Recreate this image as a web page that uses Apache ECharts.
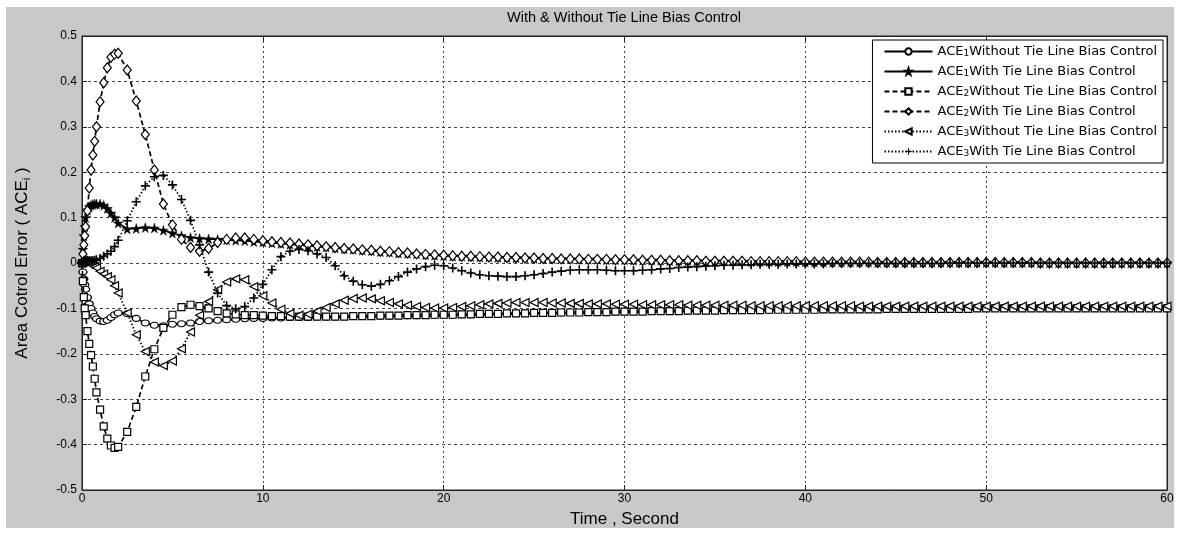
<!DOCTYPE html>
<html>
<head>
<meta charset="utf-8">
<script src="https://cdn.jsdelivr.net/npm/echarts@6/dist/echarts.min.js"></script>
<style>
html,body{margin:0;padding:0;background:#fff;}
#chart{width:1179px;height:533px;}
</style>
</head>
<body>
<div id="chart"></div>
<script>
const time = [0,0.05,0.1,0.15,0.2,0.3,0.4,0.5,0.6,0.7,0.8,1,1.2,1.4,1.6,1.8,2,
2.5,3,3.5,4,4.5,5,5.5,6,6.5,7,7.5,8,8.5,9,9.5,10,10.5,11,11.5,12,12.5,13,13.5,14,14.5,15,15.5,16,16.5,17,17.5,18,18.5,19,19.5,20,
20.5,21,21.5,22,22.5,23,23.5,24,24.5,25,
25.5,26,26.5,27,27.5,28,28.5,29,29.5,30,
30.5,31,31.5,32,32.5,33,33.5,34,34.5,35,
35.5,36,36.5,37,37.5,38,38.5,39,39.5,40,
40.5,41,41.5,42,42.5,43,43.5,44,44.5,45,
45.5,46,46.5,47,47.5,48,48.5,49,49.5,50,
50.5,51,51.5,52,52.5,53,53.5,54,54.5,55,
55.5,56,56.5,57,57.5,58,58.5,59,59.5,60];

const ace1Without = [0,-0.02,-0.035,-0.048,-0.058,-0.076,-0.09,-0.1,-0.11,-0.118,-0.123,-0.128,-0.129,-0.126,-0.12,-0.114,-0.11,
-0.112,-0.122,-0.132,-0.137,-0.138,-0.135,-0.134,-0.132,-0.129,-0.127,-0.126,-0.125,-0.124,-0.123,-0.122,-0.122,-0.121,-0.121,-0.12,-0.12,-0.12,-0.119,-0.119,-0.119,-0.118,-0.118,-0.118,-0.117,-0.117,-0.117,-0.116,-0.116,-0.116,-0.115,-0.115,-0.115,
-0.115,-0.114,-0.114,-0.113,-0.113,-0.112,-0.112,-0.112,-0.111,-0.111,
-0.110,-0.110,-0.110,-0.109,-0.109,-0.109,-0.108,-0.108,-0.108,-0.107,
-0.107,-0.107,-0.107,-0.106,-0.106,-0.106,-0.106,-0.105,-0.105,-0.105,
-0.105,-0.104,-0.104,-0.104,-0.104,-0.104,-0.103,-0.103,-0.103,-0.103,
-0.103,-0.103,-0.102,-0.102,-0.102,-0.102,-0.102,-0.102,-0.102,-0.101,
-0.101,-0.101,-0.101,-0.101,-0.101,-0.101,-0.101,-0.101,-0.100,-0.100,
-0.100,-0.100,-0.100,-0.100,-0.100,-0.100,-0.100,-0.100,-0.100,-0.100,
-0.100,-0.100,-0.100,-0.100,-0.100,-0.100,-0.100,-0.100,-0.100,-0.100];

const ace1With = [0,0.03,0.06,0.08,0.1,0.117,0.124,0.127,0.129,0.13,0.13,0.13,0.127,0.12,0.11,0.1,0.088,
0.075,0.076,0.078,0.077,0.072,0.066,0.06,0.056,0.054,0.053,0.052,0.051,0.05,0.049,0.047,0.046,0.044,0.043,0.041,0.04,0.038,0.036,0.035,0.033,0.031,0.03,0.028,0.027,0.025,0.024,0.022,0.021,0.02,0.018,0.017,0.016,
0.015,0.015,0.014,0.013,0.013,0.012,0.012,0.011,0.011,0.010,
0.010,0.009,0.009,0.009,0.008,0.008,0.008,0.007,0.007,0.007,
0.006,0.006,0.006,0.006,0.005,0.005,0.005,0.005,0.004,0.004,
0.004,0.004,0.004,0.003,0.003,0.003,0.003,0.003,0.003,0.002,
0.002,0.002,0.002,0.002,0.002,0.002,0.002,0.001,0.001,0.001,
0.001,0.001,0.001,0.001,0.001,0.001,0.001,0.001,0.001,0.001,
0.001,0.001,0.001,0.001,0.001,0,0,0,0,0,
0,0,0,0,0,0,0,0,0,0];

const ace2Without = [0,-0.04,-0.075,-0.1,-0.115,-0.15,-0.178,-0.203,-0.228,-0.255,-0.285,-0.323,-0.36,-0.387,-0.402,-0.407,-0.405,
-0.372,-0.317,-0.25,-0.19,-0.143,-0.114,-0.097,-0.092,-0.095,-0.1,-0.106,-0.111,-0.113,-0.115,-0.115,-0.116,-0.117,-0.117,-0.118,-0.118,-0.118,-0.118,-0.118,-0.118,-0.118,-0.117,-0.117,-0.117,-0.116,-0.116,-0.116,-0.115,-0.115,-0.115,-0.114,-0.114,
-0.114,-0.113,-0.113,-0.112,-0.112,-0.112,-0.111,-0.111,-0.111,-0.110,
-0.110,-0.110,-0.109,-0.109,-0.109,-0.108,-0.108,-0.108,-0.107,-0.107,
-0.107,-0.107,-0.106,-0.106,-0.106,-0.106,-0.105,-0.105,-0.105,-0.105,
-0.104,-0.104,-0.104,-0.104,-0.104,-0.103,-0.103,-0.103,-0.103,-0.103,
-0.103,-0.102,-0.102,-0.102,-0.102,-0.102,-0.102,-0.102,-0.101,-0.101,
-0.101,-0.101,-0.101,-0.101,-0.101,-0.101,-0.101,-0.101,-0.100,-0.100,
-0.100,-0.100,-0.100,-0.100,-0.100,-0.100,-0.100,-0.100,-0.100,-0.100,
-0.100,-0.100,-0.100,-0.100,-0.100,-0.100,-0.100,-0.100,-0.100,-0.100];

const ace2With = [0,0.02,0.04,0.06,0.08,0.115,0.165,0.205,0.238,0.268,0.3,0.355,0.397,0.43,0.453,0.46,0.462,
0.425,0.357,0.283,0.205,0.13,0.084,0.052,0.034,0.026,0.032,0.045,0.052,0.055,0.055,0.052,0.049,0.047,0.045,0.044,0.042,0.04,0.038,0.036,0.034,0.032,0.031,0.029,0.028,0.026,0.025,0.023,0.022,0.02,0.019,0.018,0.017,
0.016,0.015,0.015,0.014,0.013,0.013,0.012,0.012,0.011,0.011,
0.010,0.010,0.009,0.009,0.009,0.008,0.008,0.008,0.007,0.007,
0.007,0.006,0.006,0.006,0.005,0.005,0.005,0.005,0.004,0.004,
0.004,0.004,0.004,0.003,0.003,0.003,0.003,0.003,0.003,0.002,
0.002,0.002,0.002,0.002,0.002,0.002,0.002,0.001,0.001,0.001,
0.001,0.001,0.001,0.001,0.001,0.001,0.001,0.001,0.001,0.001,
0.001,0.001,0.001,0.001,0.001,0,0,0,0,0,
0,0,0,0,0,0,0,0,0,0];

const ace3Without = [0,0.002,0.003,0.003,0.003,0.002,0,-0.002,-0.005,-0.008,-0.011,-0.018,-0.024,-0.03,-0.037,-0.05,-0.066,
-0.11,-0.158,-0.195,-0.218,-0.226,-0.216,-0.189,-0.152,-0.115,-0.085,-0.059,-0.042,-0.035,-0.037,-0.052,-0.072,-0.088,-0.102,-0.111,-0.115,-0.113,-0.106,-0.098,-0.09,-0.082,-0.078,-0.077,-0.079,-0.083,-0.087,-0.09,-0.093,-0.096,-0.098,-0.099,-0.099,
-0.098,-0.096,-0.094,-0.092,-0.090,-0.089,-0.088,-0.087,-0.087,-0.087,
-0.087,-0.088,-0.088,-0.089,-0.089,-0.090,-0.090,-0.090,-0.091,-0.091,
-0.091,-0.092,-0.092,-0.092,-0.092,-0.092,-0.093,-0.093,-0.093,-0.093,
-0.093,-0.093,-0.093,-0.094,-0.094,-0.094,-0.094,-0.094,-0.094,-0.094,
-0.094,-0.094,-0.094,-0.094,-0.094,-0.095,-0.095,-0.095,-0.095,-0.095,
-0.095,-0.095,-0.095,-0.095,-0.095,-0.095,-0.095,-0.095,-0.095,-0.095,
-0.095,-0.095,-0.095,-0.095,-0.095,-0.095,-0.095,-0.095,-0.095,-0.095,
-0.095,-0.095,-0.095,-0.095,-0.095,-0.095,-0.095,-0.095,-0.095,-0.095];

const ace3With = [0,0.003,0.005,0.006,0.006,0.006,0.005,0.005,0.005,0.006,0.007,0.01,0.015,0.02,0.026,0.036,0.05,
0.093,0.135,0.17,0.19,0.193,0.172,0.14,0.094,0.04,-0.02,-0.066,-0.094,-0.101,-0.096,-0.077,-0.047,-0.015,0.014,0.026,0.03,0.027,0.02,0.012,-0.006,-0.028,-0.04,-0.048,-0.051,-0.047,-0.039,-0.03,-0.02,-0.013,-0.008,-0.005,-0.006,
-0.011,-0.017,-0.022,-0.026,-0.028,-0.029,-0.030,-0.030,-0.028,-0.026,
-0.023,-0.020,-0.018,-0.016,-0.015,-0.015,-0.015,-0.016,-0.017,-0.017,
-0.017,-0.016,-0.015,-0.013,-0.012,-0.010,-0.009,-0.008,-0.007,-0.006,
-0.005,-0.005,-0.004,-0.004,-0.003,-0.003,-0.003,-0.002,-0.002,-0.002,
-0.002,-0.002,-0.001,-0.001,-0.001,-0.001,-0.001,-0.001,-0.001,-0.001,
-0.001,-0.001,-0.001,-0.001,-0.001,0,0,0,0,0,
0,0,0,0,0,0,0,0,0,0,
0,0,0,0,0,0,0,0,0,0];

const seriesNames = [
  'ACE1 Without Tie Line Bias Control',
  'ACE1 With Tie Line Bias Control',
  'ACE2 Without Tie Line Bias Control',
  'ACE2 With Tie Line Bias Control',
  'ACE3 Without Tie Line Bias Control',
  'ACE3 With Tie Line Bias Control'
];
const seriesValues = [ace1Without, ace1With, ace2Without, ace2With, ace3Without, ace3With];
const xTicks = [0, 10, 20, 30, 40, 50, 60];

const FONT = 'Liberation Sans, Arial, sans-serif';
const LFONT = 'DejaVu Sans, Verdana, sans-serif';
const STAR = 'path://M50,0 L61,35 L98,35 L68,57 L79,91 L50,70 L21,91 L32,57 L2,35 L39,35 Z';
const PLUS = 'path://M4.1,0 H5.9 V4.1 H10 V5.9 H5.9 V10 H4.1 V5.9 H0 V4.1 H4.1 Z';

const styles = [
  {symbol:'circle', size:[8,6], fill:'#fff', bw:1.2, line:'solid', rotate:0},
  {symbol:STAR, size:10, fill:'#000', bw:0.4, line:'solid', rotate:0},
  {symbol:'rect', size:7, fill:'#fff', bw:1.2, line:[5,3], rotate:0},
  {symbol:'diamond', size:[8,10], fill:'#fff', bw:1.2, line:[5,3], rotate:0},
  {symbol:'triangle', size:8, fill:'#fff', bw:1.2, line:[1.5,2], rotate:90},
  {symbol:PLUS, size:9, fill:'#000', bw:0, line:[1.5,2], rotate:0}
];

const series = seriesNames.map((name, k) => ({
  name: name,
  type: 'line',
  xAxisIndex: 0,
  yAxisIndex: 0,
  data: time.map((t, i) => [t, seriesValues[k][i]]),
  symbol: styles[k].symbol,
  symbolSize: styles[k].size,
  symbolRotate: styles[k].rotate,
  showAllSymbol: true,
  smooth: false,
  lineStyle: {color:'#000', width:1.7, type: styles[k].line},
  itemStyle: {color: styles[k].fill, borderColor:'#000', borderWidth: styles[k].bw},
  emphasis: {disabled:true},
  z: 3 + k
}));

const chart = echarts.init(document.getElementById('chart'), null, {renderer:'canvas'});
chart.setOption({
  animation: false,
  backgroundColor: '#fff',
  graphic: [
    {type:'rect', shape:{x:6, y:7, width:1168, height:521}, style:{fill:'#c8c8c8'}, z:-10, silent:true},
    {type:'text', x:624, y:18, style:{text:'With & Without Tie Line Bias Control', font:'14.5px ' + FONT, fill:'#000', align:'center', verticalAlign:'middle', textAlign:'center', textVerticalAlign:'middle'}, z:10}
  ],
  grid: {left:82, right:12, top:36, bottom:35, show:true, backgroundColor:'#fff', borderColor:'#222', borderWidth:1},
  legend: {
    orient:'vertical', right:16, top:40,
    backgroundColor:'#fff', borderColor:'#000', borderWidth:1,
    padding:[5,6,5,11], itemGap:7, itemWidth:48, itemHeight:8,
    data: seriesNames,
    textStyle: {
      color:'#000', fontFamily: LFONT, fontSize:13,
      rich: {
        b: {fontSize:13, fontFamily: LFONT, color:'#000', lineHeight:13, verticalAlign:'middle'},
        s: {fontSize:9, fontFamily: LFONT, color:'#000', lineHeight:13, verticalAlign:'bottom'}
      }
    },
    formatter: function(name){
      const m = name.match(/^ACE(\d) (.*)$/);
      return '{b|ACE}{s|' + m[1] + '}{b|' + m[2] + '}';
    }
  },
  xAxis: [
    {type:'value', min:0, max:60, interval:10, position:'bottom',
     name:'Time , Second', nameLocation:'middle', nameGap:21,
     nameTextStyle:{fontSize:17, color:'#000', fontFamily:FONT},
     axisLine:{show:true, onZero:false, lineStyle:{color:'#222', width:1}},
     axisTick:{show:true, inside:true, length:5, lineStyle:{color:'#222'}},
     axisLabel:{color:'#000', fontSize:12, fontFamily:FONT, margin:3,
       formatter: v => xTicks.indexOf(v) >= 0 ? String(v) : ''},
     splitLine:{show:true, lineStyle:{color:'#444', type:[2,3], width:1}}},
    {type:'value', min:0, max:60, interval:10, position:'top',
     axisLine:{show:true, onZero:false, lineStyle:{color:'#222'}},
     axisTick:{show:true, inside:true, length:5, lineStyle:{color:'#222'}},
     axisLabel:{show:false}, splitLine:{show:false}}
  ],
  yAxis: [
    {type:'value', min:-0.5, max:0.5, interval:0.1, position:'left',
     name:'{b|Area Cotrol Error ( ACE}{s|i}{b| )}', nameLocation:'middle', nameGap:50,
     nameTextStyle:{color:'#000', fontFamily:FONT,
       rich:{b:{fontSize:17, fontFamily:FONT, color:'#000', lineHeight:20, verticalAlign:'middle'},
             s:{fontSize:11, fontFamily:FONT, color:'#000', lineHeight:20, verticalAlign:'bottom'}}},
     axisLine:{show:true, onZero:false, lineStyle:{color:'#222', width:1}},
     axisTick:{show:true, inside:true, length:5, lineStyle:{color:'#222'}},
     axisLabel:{color:'#000', fontSize:12, fontFamily:FONT, margin:5,
       formatter: v => Math.abs(v) < 1e-9 ? '0' : v.toFixed(1)},
     splitLine:{show:true, lineStyle:{color:'#444', type:[3,3], width:1}}},
    {type:'value', min:-0.5, max:0.5, interval:0.1, position:'right',
     axisLine:{show:true, onZero:false, lineStyle:{color:'#222'}},
     axisTick:{show:true, inside:true, length:5, lineStyle:{color:'#222'}},
     axisLabel:{show:false}, splitLine:{show:false}}
  ],
  series: series
});
</script>
</body>
</html>
